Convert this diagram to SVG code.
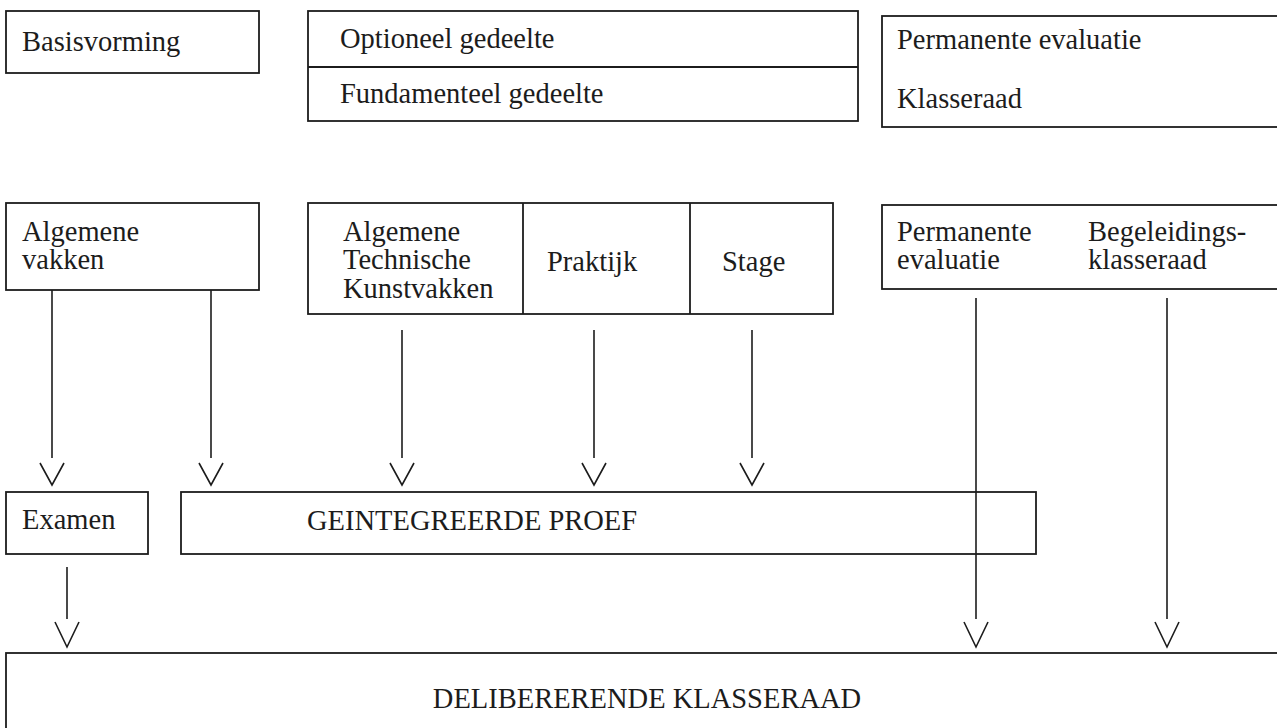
<svg xmlns="http://www.w3.org/2000/svg" width="1277" height="728" viewBox="0 0 1277 728">
<style>
.b{fill:none;stroke:#1c1c1c;stroke-width:1.8}
.c line,.c polyline{fill:none;stroke:#1c1c1c;stroke-width:1.6}
text{font-family:"Liberation Serif","Times New Roman",serif;font-size:28.5px;fill:#1c1c1c}
</style>
<rect width="1277" height="728" fill="#fff"/>
<g id="basisvorming"><rect class="b" x="6" y="11" width="253" height="62"/><text x="22" y="51">Basisvorming</text></g>
<g id="gedeelte"><rect class="b" x="308" y="11" width="550" height="110"/><line class="b" x1="308" y1="67" x2="858" y2="67"/><text x="340" y="48">Optioneel gedeelte</text><text x="340" y="103">Fundamenteel gedeelte</text></g>
<g id="evaluatie-top"><rect class="b" x="882" y="16" width="410" height="111"/><text x="897" y="49">Permanente evaluatie</text><text x="897" y="108">Klasseraad</text></g>
<g id="algemene-vakken"><rect class="b" x="6" y="203" width="253" height="87"/><text x="22" y="241">Algemene</text><text x="22" y="269">vakken</text></g>
<g id="vakken-mid"><rect class="b" x="308" y="203" width="525" height="111"/><line class="b" x1="523" y1="203" x2="523" y2="314"/><line class="b" x1="690" y1="203" x2="690" y2="314"/><text x="343" y="241">Algemene</text><text x="343" y="269">Technische</text><text x="343" y="298">Kunstvakken</text><text x="547" y="271">Praktijk</text><text x="722" y="271">Stage</text></g>
<g id="evaluatie-mid"><rect class="b" x="882" y="205" width="410" height="84"/><text x="897" y="241">Permanente</text><text x="897" y="269">evaluatie</text><text x="1088" y="241">Begeleidings-</text><text x="1088" y="269">klasseraad</text></g>
<g id="examen"><rect class="b" x="6" y="492" width="142" height="62"/><text x="22" y="529">Examen</text></g>
<g id="proef"><rect class="b" x="181" y="492" width="855" height="62"/><text x="307" y="530">GEINTEGREERDE PROEF</text></g>
<g id="klasseraad"><rect class="b" x="6" y="653" width="1290" height="100"/><text x="647" y="708" text-anchor="middle">DELIBERERENDE KLASSERAAD</text></g>
<g class="c" id="connectors">
<line x1="52" y1="290" x2="52" y2="458"/><polyline points="40,463 52,485 64,463"/>
<line x1="211" y1="290" x2="211" y2="458"/><polyline points="199,463 211,485 223,463"/>
<line x1="402" y1="330" x2="402" y2="458"/><polyline points="390,463 402,485 414,463"/>
<line x1="594" y1="330" x2="594" y2="458"/><polyline points="582,463 594,485 606,463"/>
<line x1="752" y1="330" x2="752" y2="458"/><polyline points="740,463 752,485 764,463"/>
<line x1="67" y1="567" x2="67" y2="619"/><polyline points="55,622 67,647 79,622"/>
<line x1="976" y1="298" x2="976" y2="619"/><polyline points="964,622 976,647 988,622"/>
<line x1="1167" y1="298" x2="1167" y2="619"/><polyline points="1155,622 1167,647 1179,622"/>
</g>
</svg>
